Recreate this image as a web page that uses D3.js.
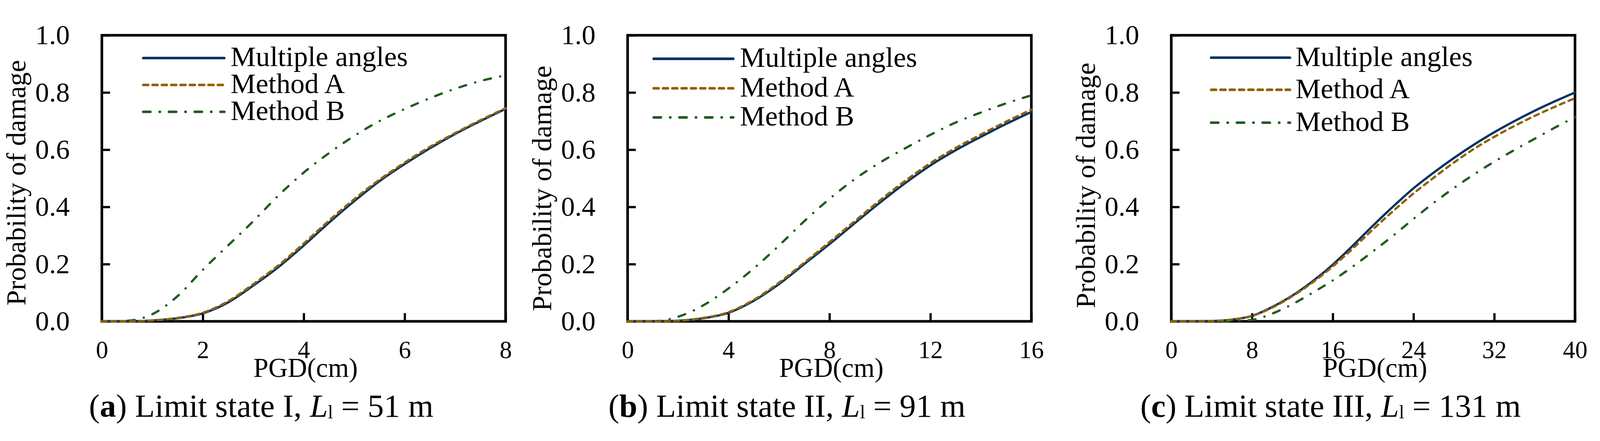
<!DOCTYPE html>
<html>
<head>
<meta charset="utf-8">
<script src="https://cdn.jsdelivr.net/npm/d3@7"></script>
<style>
  html, body { margin: 0; padding: 0; background: #fff; overflow: hidden; }
  svg { display: block; width: 100vw; height: 100vh; }
  text { font-family: "Liberation Serif", "Times New Roman", serif; fill: #000; }
</style>
</head>
<body>
<div id="chart"></div>
<script>
// panel (a) limit state I
const pgdI = [0, 0.5, 1, 1.5, 2, 2.5, 3, 3.5, 4, 4.5, 5, 5.5, 6, 6.5, 7, 7.5, 8];
const multipleI = [0, 0, 0.003, 0.011, 0.028, 0.066, 0.125, 0.19, 0.265, 0.345, 0.42, 0.49, 0.55, 0.605, 0.655, 0.70, 0.743];
const methodAI = [0, 0, 0.003, 0.012, 0.03, 0.07, 0.13, 0.196, 0.272, 0.352, 0.427, 0.495, 0.555, 0.61, 0.658, 0.703, 0.745];
const methodBI = [0, 0.002, 0.025, 0.088, 0.18, 0.265, 0.35, 0.44, 0.52, 0.588, 0.648, 0.70, 0.742, 0.78, 0.813, 0.84, 0.86];

// panel (b) limit state II
const pgdII = [0, 1, 2, 3, 4, 5, 6, 7, 8, 9, 10, 11, 12, 13, 14, 15, 16];
const multipleII = [0, 0, 0.002, 0.011, 0.03, 0.072, 0.13, 0.20, 0.27, 0.343, 0.415, 0.483, 0.545, 0.598, 0.645, 0.69, 0.732];
const methodAII = [0, 0, 0.002, 0.012, 0.032, 0.075, 0.135, 0.205, 0.277, 0.35, 0.423, 0.491, 0.553, 0.606, 0.653, 0.698, 0.74];
const methodBII = [0, 0, 0.016, 0.056, 0.115, 0.185, 0.265, 0.35, 0.428, 0.497, 0.555, 0.605, 0.652, 0.695, 0.73, 0.762, 0.79];

// panel (c) limit state III
const pgdIII = [0, 2, 4, 6, 8, 10, 12, 14, 16, 18, 20, 22, 24, 26, 28, 30, 32, 34, 36, 38, 40];
const multipleIII = [0, 0, 0.001, 0.006, 0.019, 0.05, 0.09, 0.14, 0.198, 0.265, 0.335, 0.402, 0.465, 0.52, 0.571, 0.618, 0.661, 0.70, 0.736, 0.769, 0.80];
const methodAIII = [0, 0, 0.001, 0.006, 0.019, 0.048, 0.088, 0.136, 0.192, 0.255, 0.322, 0.386, 0.447, 0.502, 0.555, 0.603, 0.645, 0.683, 0.718, 0.75, 0.78];
const methodBIII = [0, 0, 0, 0.001, 0.005, 0.027, 0.06, 0.10, 0.143, 0.192, 0.245, 0.30, 0.358, 0.414, 0.466, 0.514, 0.558, 0.599, 0.638, 0.677, 0.714];

const xTicksI = [0, 2, 4, 6, 8];
const xTicksII = [0, 4, 8, 12, 16];
const xTicksIII = [0, 8, 16, 24, 32, 40];
const yTicks = [0, 0.2, 0.4, 0.6, 0.8, 1.0];

const seriesNames = ["Multiple angles", "Method A", "Method B"];
const captionLetters = ["a", "b", "c"];
const limitStates = ["I", "II", "III"];
const lengths = [51, 91, 131];
const xLabel = "PGD(cm)";
const yLabel = "Probability of damage";

let w = 4288;
let h = 1128;
let plotTop = 68;
let plotBottom = 834;
let plotWidth = 1082;

let colours = ["#003264", "#8e6200", "#225b1f"];
let dashes = [null, "13,12", "19,25,0.5,24.5"];

let panels = [
  { pgd: pgdI, series: [multipleI, methodAI, methodBI], ticks: xTicksI, left: 273,
    legend: { lineX: 384, lineEnd: 601, textX: 618, rows: [129, 201, 273] }, titleY: 463 },
  { pgd: pgdII, series: [multipleII, methodAII, methodBII], ticks: xTicksII, left: 1682,
    legend: { lineX: 1752, lineEnd: 1965, textX: 1983, rows: [131, 210, 288] }, titleY: 478 },
  { pgd: pgdIII, series: [multipleIII, methodAIII, methodBIII], ticks: xTicksIII, left: 3139,
    legend: { lineX: 3246, lineEnd: 3457, textX: 3472, rows: [128, 214, 302] }, titleY: 470 }
];

// the viewBox keeps the whole figure in the window whatever its css width turns out to be
let svg = d3.select("#chart").append("svg")
  .attr("viewBox", `0 0 ${w} ${h}`)
  .attr("preserveAspectRatio", "xMidYMid meet");
svg.append("rect").attr("width", w).attr("height", h).attr("fill", "#fff");

function drawPanel(p, i) {
  let g = svg.append("g");
  let xMax = p.ticks[p.ticks.length - 1];
  let xScale = d3.scaleLinear().domain([0, xMax]).range([p.left, p.left + plotWidth]);
  let yScale = d3.scaleLinear().domain([0, 1]).range([plotBottom, plotTop]);

  // frame
  g.append("rect")
    .attr("x", p.left).attr("y", plotTop)
    .attr("width", plotWidth).attr("height", plotBottom - plotTop)
    .attr("fill", "none").attr("stroke", "#000").attr("stroke-width", 7);

  let yAxis = g.append("g")
    .attr("transform", `translate(${p.left},0)`)
    .call(d3.axisLeft(yScale).tickValues(yTicks).tickFormat(d3.format(".1f"))
      .tickSizeInner(-22).tickSizeOuter(0).tickPadding(86));
  yAxis.select(".domain").remove();
  yAxis.selectAll("line").attr("stroke", "#000").attr("stroke-width", 6);
  yAxis.selectAll("text").attr("font-size", 74).attr("dy", "0.32em");
  yAxis.attr("font-family", null).attr("font-size", null);

  let xAxis = g.append("g")
    .attr("transform", `translate(0,${plotBottom})`)
    .call(d3.axisBottom(xScale).tickValues(p.ticks).tickFormat((d) => d)
      .tickSizeInner(-22).tickSizeOuter(0).tickPadding(52));
  xAxis.select(".domain").remove();
  xAxis.selectAll("line").attr("stroke", "#000").attr("stroke-width", 6);
  xAxis.selectAll("text").attr("font-size", 66);
  xAxis.attr("font-family", null).attr("font-size", null);

  g.append("text")
    .attr("transform", `translate(${p.left - 205},${p.titleY}) rotate(-90)`)
    .attr("text-anchor", "middle")
    .attr("font-size", 74)
    .text(yLabel);

  g.append("text")
    .attr("x", p.left + plotWidth / 2 + 5)
    .attr("y", 983)
    .attr("text-anchor", "middle")
    .attr("font-size", 72)
    .text(xLabel);

  // legend
  seriesNames.forEach((name, k) => {
    g.append("line")
      .attr("x1", p.legend.lineX).attr("x2", p.legend.lineEnd)
      .attr("y1", p.legend.rows[k]).attr("y2", p.legend.rows[k])
      .attr("stroke", colours[k]).attr("stroke-width", 7)
      .attr("stroke-linecap", "round")
      .attr("stroke-dasharray", dashes[k]);
    g.append("text")
      .attr("x", p.legend.textX).attr("y", p.legend.rows[k] + 22)
      .attr("font-size", 76)
      .text(name);
  });

  // curves: method B, then the solid line, then method A over it
  let line = d3.line()
    .x((d) => xScale(d[0]))
    .y((d) => yScale(d[1]))
    .curve(d3.curveMonotoneX);

  [2, 0, 1].forEach((k) => {
    let pts = p.pgd.map((x, j) => [x, p.series[k][j]]);
    g.append("path")
      .attr("d", line(pts))
      .attr("fill", "none")
      .attr("stroke", colours[k])
      .attr("stroke-width", 6)
      .attr("stroke-linecap", "round")
      .attr("stroke-dasharray", dashes[k]);
  });

  // caption
  let cap = g.append("text")
    .attr("x", p.left + 427)
    .attr("y", 1090)
    .attr("text-anchor", "middle")
    .attr("font-size", 87);
  cap.append("tspan").text("(");
  cap.append("tspan").attr("font-weight", "bold").text(captionLetters[i]);
  cap.append("tspan").text(`) Limit state ${limitStates[i]}, `);
  cap.append("tspan").attr("font-style", "italic").text("L");
  cap.append("tspan").attr("font-size", 50).attr("dy", 4).text("l");
  cap.append("tspan").attr("dy", -4).text(` = ${lengths[i]} m`);
}

panels.forEach(drawPanel);
</script>
</body>
</html>
